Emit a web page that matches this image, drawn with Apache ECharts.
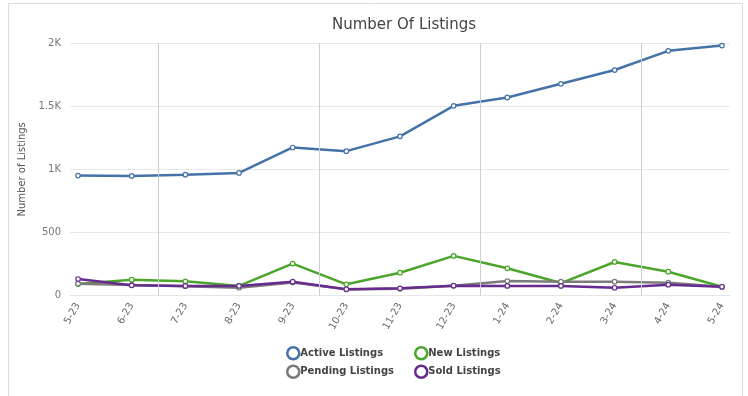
<!DOCTYPE html>
<html><head><meta charset="utf-8">
<script src="https://cdn.jsdelivr.net/npm/echarts@6/dist/echarts.min.js"></script>
<style>html,body{margin:0;padding:0;background:#fff}#c{width:748px;height:396px}</style>
</head><body><div id="c"></div>
<script>
const categories = ['5-23','6-23','7-23','8-23','9-23','10-23','11-23','12-23','1-24','2-24','3-24','4-24','5-24'];
const activeListings = [951,948,958,972,1173,1144,1261,1503,1569,1677,1786,1938,1980];
const newListings = [93,127,114,77,254,90,182,315,217,100,267,190,71];
const pendingListings = [95,85,75,63,105,50,55,78,116,111,111,103,71];
const soldListings = [132,82,77,77,111,51,58,79,77,77,63,87,71];
const yTicks = [0,500,1000,1500,2000];
const yTickLabels = ['0','500','1K','1.5K','2K'];
const quarterDividers = [1.5,4.5,7.5,10.5];

const chart = echarts.init(document.getElementById('c'), null, {renderer:'canvas'});
const font = '"DejaVu Sans", Verdana, sans-serif';
function mk(name, data, color, extra) {
  return Object.assign({
    name, type:'line', data: data.map((v,i)=>[i,v]),
    symbol:'circle', symbolSize:4.5, showSymbol:true,
    lineStyle:{color, width:2.5},
    itemStyle:{color:'#fff', borderColor:color, borderWidth:1.2},
    emphasis:{disabled:true}, animation:false
  }, extra||{});
}
const legendCommon = {orient:'vertical', top:346, itemGap:4, padding:0,
  itemWidth:12, itemHeight:12, icon:'circle',
  itemStyle:{color:'#fff', borderWidth:2.5},
  textStyle:{fontFamily:font, fontSize:10, fontWeight:'bold', color:'#444', padding:[0,0,0,-4]}};
chart.setOption({
  animation:false,
  title:{text:'Number Of Listings', left:327, top:13,
    textStyle:{fontFamily:font, fontSize:15, fontWeight:'normal', color:'#444'}},
  graphic:[{type:'rect', shape:{x:8.5,y:3.5,width:734,height:400}, style:{fill:'none', stroke:'#dcdcdc', lineWidth:1}, silent:true}],
  grid:{left:70, right:18, top:43, bottom:100.3, containLabel:false},
  xAxis:{type:'value', min:-0.15, max:12.15,
    axisLine:{show:true, lineStyle:{color:'#e6e6e6', width:1}},
    axisTick:{show:false},
    splitLine:{show:false},
    axisLabel:{customValues:categories.map((c,i)=>i), formatter:v=>categories[Math.round(v)],
      rotate:60, color:'#666', fontFamily:font, fontSize:10, margin:8}},
  yAxis:{type:'value', min:0, max:2000, interval:500,
    name:'Number of Listings', nameLocation:'middle', nameGap:34, nameRotate:90,
    nameTextStyle:{color:'#555', fontFamily:font, fontSize:10},
    axisLine:{show:false}, axisTick:{show:false},
    splitLine:{lineStyle:{color:'#e8e8e8', width:1}},
    axisLabel:{formatter:v=>yTickLabels[yTicks.indexOf(v)], color:'#777', fontFamily:font, fontSize:10, margin:9}},
  legend:[
    Object.assign({data:['Active Listings','Pending Listings'], left:286}, legendCommon),
    Object.assign({data:['New Listings','Sold Listings'], left:414}, legendCommon)
  ],
  series:[
    mk('Active Listings', activeListings, '#4572a7', {
      markLine:{silent:true, symbol:'none', label:{show:false},
        lineStyle:{color:'#c9ced8', type:'solid', width:1},
        data: quarterDividers.map(x=>({xAxis:x}))}
    }),
    mk('New Listings', newListings, '#4ba52b'),
    mk('Pending Listings', pendingListings, '#7b7b7b'),
    mk('Sold Listings', soldListings, '#672b90')
  ]
});
</script></body></html>
